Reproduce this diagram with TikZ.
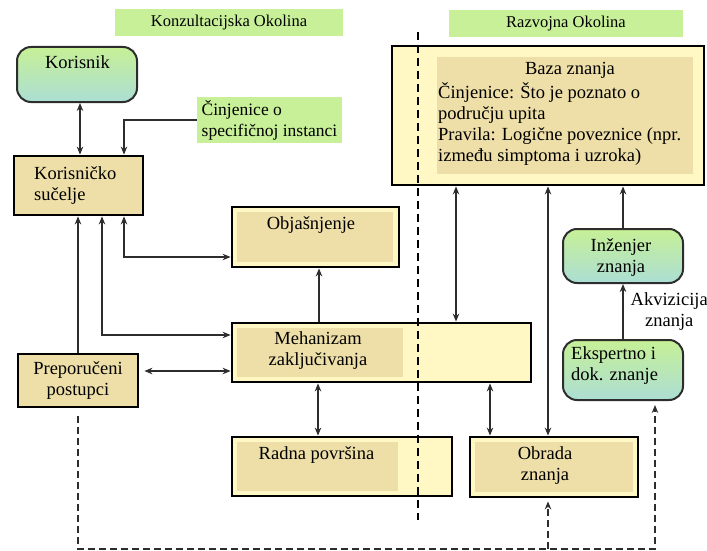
\documentclass[tikz,border=0pt]{standalone}
\usepackage{fontspec}
\setmainfont{Liberation Serif}
\usetikzlibrary{arrows.meta, backgrounds, calc, positioning}
\definecolor{TitleGreen}{RGB}{200,240,152}
\definecolor{NodeGreen}{RGB}{198,240,150}
\definecolor{NodeAqua}{RGB}{172,222,212}
\definecolor{PaleYellow}{RGB}{255,247,196}
\definecolor{BoxTan}{RGB}{238,223,168}
\definecolor{LineGray}{RGB}{45,45,45}

\begin{document}
\begin{tikzpicture}[x=1pt,y=-1pt,>={Stealth[length=8pt,width=6.5pt]},
  font=\fontsize{18.5}{21}\selectfont,
  title style/.style={
    fill=TitleGreen,
    font=\fontsize{16.5}{19}\selectfont,
    minimum width=#1,
    minimum height=27pt,
  },
  actor style/.style={
    draw=LineGray,
    line width=2pt,
    rounded corners=14pt,
    top color=NodeGreen,
    middle color=NodeGreen,
    bottom color=NodeAqua,
    minimum width=120pt,
    minimum height=#1,
  },
  box style/.style={
    draw=black,
    line width=2.8pt,
    fill=PaleYellow,
  },
  inner tan/.style n args={3}{
    path picture={\fill[BoxTan] ([shift={(#1,-#3)}]path picture bounding box.north west)
      rectangle ([shift={(-#2,#3)}]path picture bounding box.south east);}
  },
  text style/.style={inner sep=0pt, text=black},
  link/.style={LineGray, line width=1.4pt},
  loop link/.style={LineGray, line width=2pt, dash pattern=on 7pt off 4pt},
  divider/.style={black, line width=2.8pt, dash pattern=on 8pt off 5pt}
]
\useasboundingbox (0,0) rectangle (707,551);

% titles
\node[title style=228pt] (konz) at (229,23) {Konzultacijska Okolina};
\node[title style=234pt] (razv) at (566,24) {Razvojna Okolina};

% consultation side
\node[actor style=55pt] (kor) at (77,74.5) {};
\node[text style] (korT) at (77.5,62) {Korisnik};

\node[fill=TitleGreen, minimum width=145pt, minimum height=46pt, inner xsep=1pt,
  font=\fontsize{17.5}{21}\selectfont, align=left] (cin) at (269.5,120) {Činjenice o\\specifičnoj instanci};

\node[box style, fill=BoxTan, minimum width=129pt, minimum height=59pt] (ks) at (78.5,185.5) {};
\node[text style, align=left, anchor=west] (ksT) at (34,185.5) {Korisničko\\sučelje};

\node[box style, inner tan={5pt}{6pt}{5pt}, minimum width=167pt, minimum height=60pt] (obj) at (315.5,237) {};
\node[text style] (objT) at (311,225) {Objašnjenje};

\node[box style, inner tan={5pt}{128pt}{5pt}, minimum width=299pt, minimum height=59pt] (meh) at (381.5,352.5) {};
\node[text style, align=center] (mehT) at (318,351) {Mehanizam\\zaključivanja};

\node[box style, fill=BoxTan, minimum width=120pt, minimum height=53pt] (prep) at (78,380.5) {};
\node[text style, align=center] (prepT) at (78,381) {Preporučeni\\postupci};

\node[box style, inner tan={5pt}{54pt}{5pt}, minimum width=220pt, minimum height=59pt] (radna) at (342,466.5) {};
\node[text style] (radnaT) at (316.5,455) {Radna površina};

% development side
\node[box style, inner tan={45pt}{11pt}{11pt}, minimum width=312pt, minimum height=139pt] (baza) at (548,115.5) {};
\node[text style] (bazaT) at (570,70) {Baza znanja};
\node[text style, align=left, anchor=west] (bazaL) at (438,124.5) {Činjenice: Što je poznato o\\području upita\\Pravila: Logične poveznice (npr.\\između simptoma i uzroka)};

\node[box style, inner tan={5pt}{5pt}{5pt}, minimum width=168pt, minimum height=60pt] (obr) at (554,467) {};
\node[text style, align=center] (obrT) at (545,465.5) {Obrada\\znanja};

\node[actor style=54pt] (inz) at (623,256) {};
\node[text style, align=center] (inzT) at (621,257.5) {Inženjer\\znanja};

\node[actor style=60pt] (eks) at (623,370) {};
\node[text style, align=left, anchor=west] (eksT) at (571,366) {Ekspertno i\\dok. znanje};

% connectors
\draw[link,<->] ([xshift=3pt]kor.south) -- ([xshift=3pt]kor.south |- ks.north);
\draw[link,->] (cin.west) -| ([xshift=45.5pt]ks.north);
\draw[link,->] (prep.north) -- (prep.north |- ks.south);
\draw[link,<->] ([yshift=17.5pt]meh.west) -| ([xshift=23.5pt]ks.south);
\draw[link,<->] ([yshift=-20pt]obj.west) -| ([xshift=45.5pt]ks.south);
\draw[link,<->] ([xshift=5pt,yshift=9.5pt]prep.east) -- ([yshift=9.5pt]prep.east -| meh.west);
\draw[link,->] ([xshift=3.5pt]obj.south |- meh.north) -- ([xshift=3.5pt]obj.south);
\draw[link,<->] ([xshift=-24pt]radna.north |- meh.south) -- ([xshift=-24pt]radna.north);
\draw[link,<->] ([xshift=-64pt]obr.north |- meh.south) -- ([xshift=-64pt]obr.north);
\draw[link,<->] ([xshift=-92pt]baza.south) -- ([xshift=-92pt]baza.south |- meh.north);
\draw[link,<->] (baza.south) -- (baza.south |- obr.north);
\draw[link,->] (inz.north) -- (inz.north |- baza.south);
\draw[link,->] (eks.north) -- node[text style, right=7pt, align=center] (akv) {Akvizicija\\znanja} (inz.south);

% feedback loop
\coordinate (loopR) at (655,549);
\draw[loop link,->] ([yshift=-8pt]prep.south) |- (loopR) -- ([yshift=-4pt]eks.south -| loopR);
\draw[loop link,->] ([xshift=-6pt]obr.south |- loopR) -- ([xshift=-6pt,yshift=-3pt]obr.south);

% border between the two environments
\coordinate (divTop) at (418,32);
\coordinate (divBot) at (418,520);
\draw[divider] (divTop) -- (divBot);

\end{tikzpicture}
\end{document}
